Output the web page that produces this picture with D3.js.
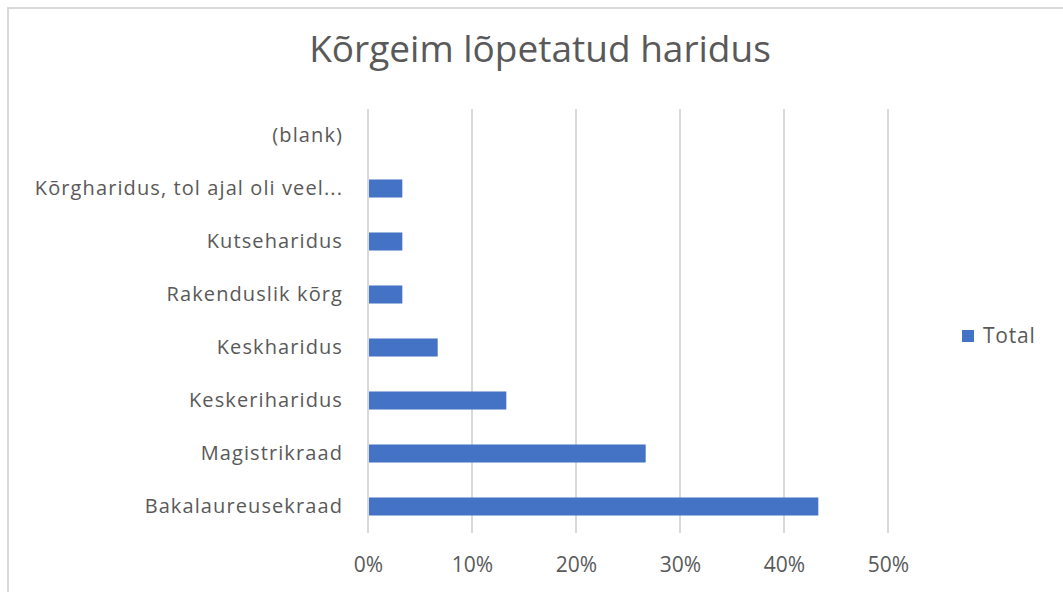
<!DOCTYPE html>
<html>
<head>
<meta charset="utf-8">
<script src="https://cdn.jsdelivr.net/npm/d3@7"></script>
<style>
  body { margin: 0; background: white; }
  svg { display: block; }
  svg text { font-family: "Open Sans", sans-serif; }
</style>
</head>
<body>
<svg id="chart" width="1063" height="592"></svg>
<script>
// categories from bottom to top, as in the picture
var categories = ["Bakalaureusekraad", "Magistrikraad", "Keskeriharidus", "Keskharidus",
    "Rakenduslik kõrg", "Kutseharidus", "Kõrgharidus, tol ajal oli veel...", "(blank)"];
var totals = [0.433, 0.267, 0.133, 0.067, 0.033, 0.033, 0.033, 0];
var ticks = [0, 0.1, 0.2, 0.3, 0.4, 0.5];
var title = "Kõrgeim lõpetatud haridus";
var seriesName = "Total";

var svg = d3.select("#chart");
var textColor = "#595959";
var barColor = "#4472c4";

// outer chart frame
svg.append("rect")
    .attr("x", 8).attr("y", 8)
    .attr("width", 1070).attr("height", 600)
    .attr("fill", "white")
    .attr("stroke", "#d9d9d9")
    .attr("stroke-width", 2);

var margin = { top: 109, left: 368 };
var w = 888 - margin.left,
    h = 533 - margin.top;

var xS = d3.scaleLinear().domain([0, 0.5]).range([0, w]);
var yS = d3.scaleBand()
    .domain(categories.slice().reverse())
    .range([0, h])
    .paddingInner(0.66)
    .paddingOuter(0.33);

var g = svg.append("g")
    .attr("transform", "translate(" + margin.left + "," + margin.top + ")");

// gridlines
g.append("g")
    .selectAll("line")
    .data(ticks)
    .enter()
    .append("line")
    .attr("x1", d => xS(d)).attr("x2", d => xS(d))
    .attr("y1", 0).attr("y2", h)
    .attr("stroke", "#d9d9d9")
    .attr("stroke-width", 2);

// bars
g.selectAll("rect.bar")
    .data(categories.map((c, i) => ({ cat: c, v: totals[i] })))
    .enter()
    .append("rect")
    .attr("class", "bar")
    .attr("x", 1)
    .attr("y", d => yS(d.cat))
    .attr("width", d => Math.max(0, xS(d.v) - 1))
    .attr("height", yS.bandwidth())
    .attr("fill", barColor);

// x axis
var xAxis = g.append("g")
    .attr("transform", "translate(0," + h + ")")
    .call(d3.axisBottom(xS).tickValues(ticks).tickFormat(d3.format(".0%")).tickSize(0).tickPadding(24));
xAxis.select(".domain").remove();
xAxis.selectAll("text")
    .attr("fill", textColor)
    .style("font-family", "'Open Sans', sans-serif")
    .style("font-size", "21px");

// y axis
var yAxis = g.append("g")
    .call(d3.axisLeft(yS).tickSize(0).tickPadding(25));
yAxis.select(".domain").remove();
yAxis.selectAll("text")
    .attr("fill", textColor)
    .style("font-family", "'Open Sans', sans-serif")
    .style("font-size", "20px")
    .style("letter-spacing", "1.1px");

// title
svg.append("text")
    .attr("x", 540).attr("y", 62)
    .attr("text-anchor", "middle")
    .attr("fill", textColor)
    .style("font-size", "37px")
    .text(title);

// legend
var legend = svg.append("g").attr("transform", "translate(962,330)");
legend.append("rect")
    .attr("width", 12).attr("height", 12)
    .attr("fill", barColor);
legend.append("text")
    .attr("x", 21).attr("y", 6)
    .attr("dy", "0.35em")
    .attr("fill", textColor)
    .style("font-size", "21px")
    .style("letter-spacing", "0.8px")
    .text(seriesName);
</script>
</body>
</html>
